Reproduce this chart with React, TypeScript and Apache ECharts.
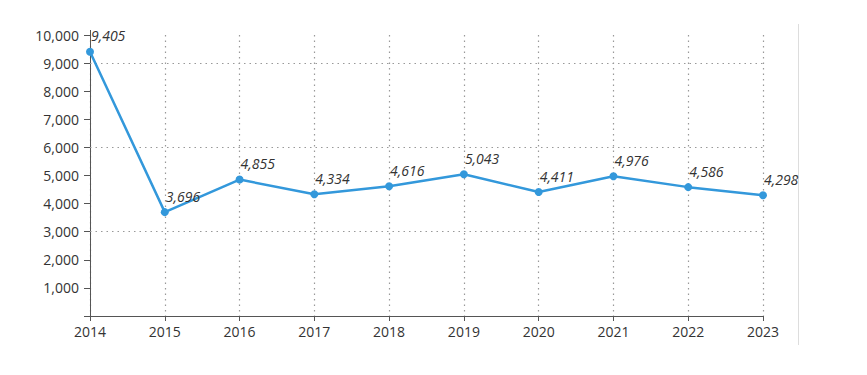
import React, { useEffect, useRef } from "react";
import * as echarts from "echarts";

const years = ["2014", "2015", "2016", "2017", "2018", "2019", "2020", "2021", "2022", "2023"];
const values = [9405, 3696, 4855, 4334, 4616, 5043, 4411, 4976, 4586, 4298];
const gridValues = [3000, 6000, 9000];

const FONT = "Open Sans";

export default function App() {
  const ref = useRef<HTMLDivElement>(null);
  useEffect(() => {
    if (!ref.current) return;
    const chart = echarts.init(ref.current, null, { renderer: "svg" });
    const dotted = { color: "#999", type: [1.5, 4], width: 1.2 };
    chart.setOption({
      animation: false,
      textStyle: { fontFamily: FONT },
      grid: { left: 90, right: 104, top: 35, bottom: 59, containLabel: false },
      xAxis: {
        type: "category",
        data: years,
        boundaryGap: false,
        axisLine: { lineStyle: { color: "#555", width: 1 } },
        axisTick: { show: true, length: 5, lineStyle: { color: "#555" } },
        axisLabel: { color: "#333", fontSize: 14, margin: 8, fontFamily: FONT },
        splitLine: { show: true, lineStyle: dotted },
      },
      yAxis: {
        type: "value",
        min: 0,
        max: 10000,
        interval: 1000,
        axisLine: { show: true, lineStyle: { color: "#555", width: 1 } },
        axisTick: { show: true, length: 6, lineStyle: { color: "#555" } },
        axisLabel: {
          color: "#333",
          fontSize: 14,
          margin: 11,
          fontFamily: FONT,
          formatter: (v: number) => (v === 0 ? "" : v.toLocaleString("en-US")),
        },
        splitLine: { show: false },
      },
      graphic: [
        {
          type: "line",
          shape: { x1: 798.5, y1: 24, x2: 798.5, y2: 345 },
          style: { stroke: "#ddd", lineWidth: 1 },
        },
        {
          type: "line",
          shape: { x1: 90.5, y1: 30, x2: 90.5, y2: 35 },
          style: { stroke: "#555", lineWidth: 1 },
        },
      ],
      series: [
        {
          type: "line",
          data: values,
          symbol: "circle",
          symbolSize: 8,
          lineStyle: { color: "#3398db", width: 2.5 },
          itemStyle: { color: "#3398db" },
          z: 3,
          label: {
            show: true,
            position: "top",
            align: "left",
            offset: [1, 0],
            distance: 5,
            color: "#333",
            fontSize: 14,
            fontStyle: "italic",
            fontFamily: FONT,
            formatter: (p: any) => Number(p.value).toLocaleString("en-US"),
          },
          markLine: {
            silent: true,
            symbol: "none",
            label: { show: false },
            lineStyle: dotted,
            z: 1,
            data: gridValues.map((v) => ({ yAxis: v })),
          },
        },
      ],
    });
    return () => chart.dispose();
  }, []);
  return <div ref={ref} style={{ width: 867, height: 375, position: "absolute", left: 0, top: 0 }} />;
}
